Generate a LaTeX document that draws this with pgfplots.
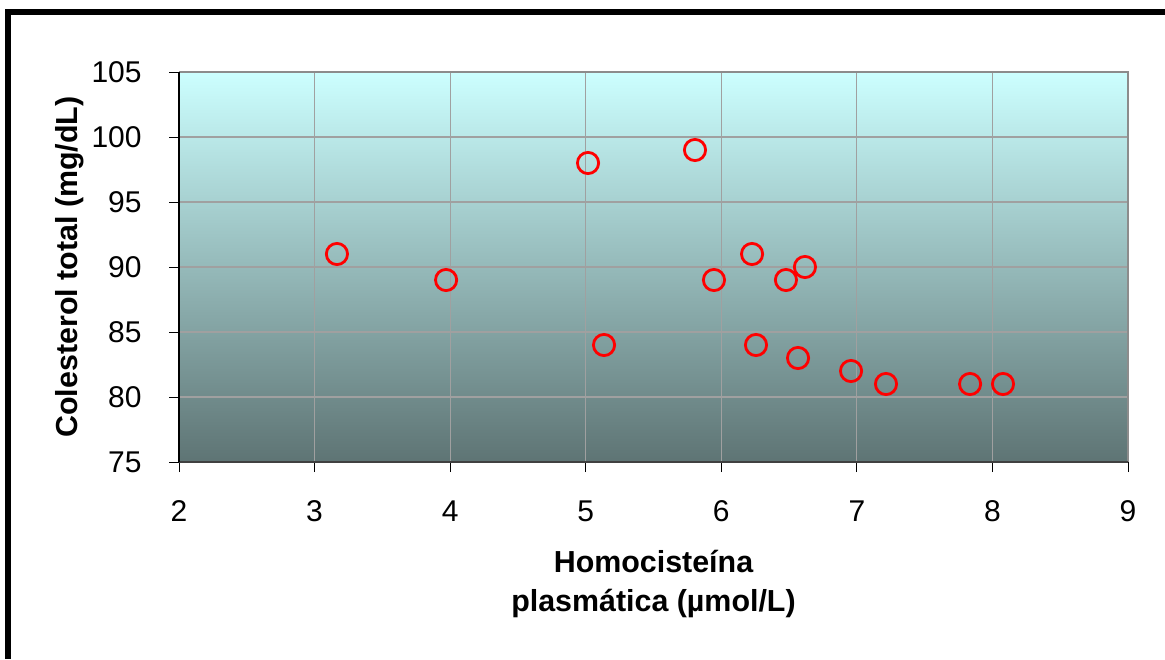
\documentclass[border=0pt]{standalone}
\usepackage{pgfplots}
\pgfplotsset{compat=1.18}
\usepackage{fontspec}
\setmainfont{Liberation Sans}
\definecolor{bgtop}{HTML}{CCFFFF}
\definecolor{bgbot}{HTML}{5E7474}
\definecolor{gridc}{HTML}{A0A0A0}
\definecolor{framec}{HTML}{8C8C8C}
\begin{document}
\begin{tikzpicture}
\useasboundingbox (0,0) rectangle (582.5pt,329.5pt);
\fill[black] (2.5pt,0) rectangle (5.5pt,325pt);
\fill[black] (2.5pt,322pt) rectangle (582.5pt,325pt);
\begin{axis}[
  at={(89.5pt,98.5pt)}, anchor=south west,
  scale only axis, width=474.5pt, height=195pt,
  xmin=2, xmax=9, ymin=75, ymax=105,
  xtick={2,3,4,5,6,7,8,9}, ytick={75,80,85,90,95,100,105},
  axis background/.style={top color=bgtop, bottom color=bgbot},
  axis line style={draw=none},
  grid=major, major grid style={color=gridc, line width=0.6pt},
  tick align=outside, major tick length=5pt,
  tick style={black, line width=0.5pt},
  xtick pos=left, ytick pos=left,
  /pgf/number format/assume math mode=true,
  ticklabel style={font=\fontsize{15}{17}\selectfont, inner sep=0pt},
  xticklabel style={anchor=north, yshift=-14pt},
  yticklabel style={anchor=east, xshift=-13.5pt},
  xlabel={Homocisteína\\plasmática (µmol/L)},
  xlabel style={at={(axis description cs:0.5,-0.226)}, anchor=north, align=center, inner sep=0pt, font=\fontsize{15.2}{19.5}\selectfont\bfseries},
  ylabel={Colesterol total (mg/dL)},
  ylabel style={at={(axis description cs:-0.1149,0.5)}, anchor=center, inner sep=0pt, font=\fontsize{15.2}{17}\selectfont\bfseries},
  clip=false,
]
\addplot[only marks, mark=o, mark size=5.3pt, draw=red, mark options={line width=1.4pt}] coordinates {
(3.165,91) (3.97,89) (5.017,98) (5.806,99) (5.135,84) (5.946,89) (6.227,91)
(6.256,84) (6.477,89) (6.617,90) (6.566,83) (6.957,82) (7.215,81) (7.835,81) (8.078,81)
};
\draw[framec, line width=1.2pt] (rel axis cs:0,1) -- (rel axis cs:1,1) -- (rel axis cs:1,0);
\draw[black!75, line width=1pt] (rel axis cs:0,0) -- (rel axis cs:1,0);
\draw[black, line width=0.6pt] (rel axis cs:0,0) -- (rel axis cs:0,1);
\end{axis}
\end{tikzpicture}
\end{document}
